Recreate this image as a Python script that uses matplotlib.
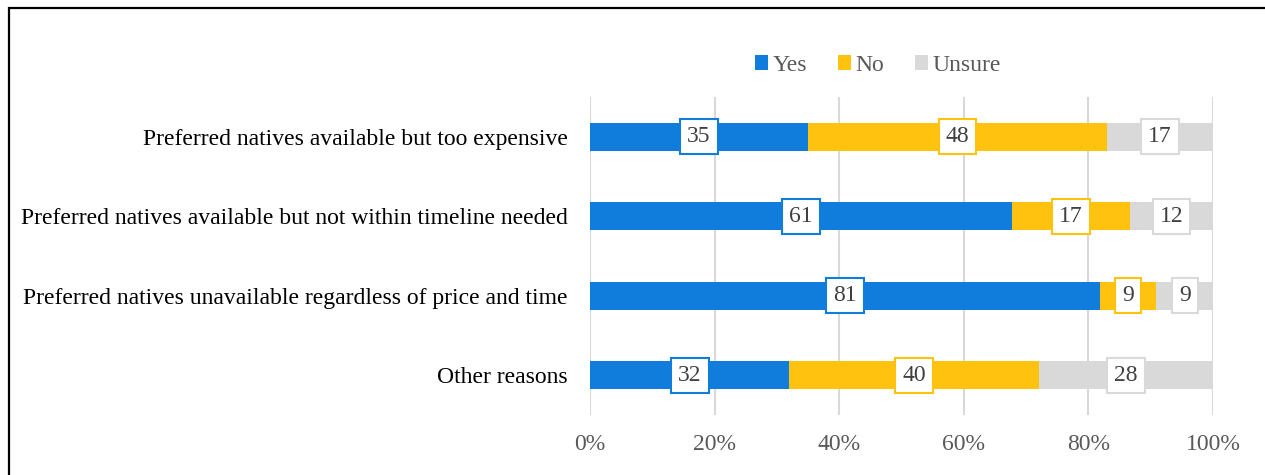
import matplotlib.pyplot as plt
from matplotlib.patches import Rectangle
import numpy as np

plt.rcParams['font.family'] = ['Liberation Serif', 'DejaVu Serif']

# Data (raw counts/percent labels per reason).
categories = [
    'Preferred natives available but too expensive',
    'Preferred natives available but not within timeline needed',
    'Preferred natives unavailable regardless of price and time',
    'Other reasons',
]
yes = [35, 61, 81, 32]
no = [48, 17, 9, 40]
unsure = [17, 12, 9, 28]
series_names = ['Yes', 'No', 'Unsure']
colors = ['#107CDC', '#FFC20E', '#D9D9D9']
ticks = [0, 20, 40, 60, 80, 100]

fig = plt.figure(figsize=(12.65, 4.75), dpi=100)
ax = fig.add_axes([590 / 1265, 60 / 475, 623 / 1265, 318 / 475])

values = np.array([yes, no, unsure], dtype=float)
totals = values.sum(axis=0)
shares = values / totals * 100
y = np.arange(len(categories))

left = np.zeros(len(categories))
for i, name in enumerate(series_names):
    ax.barh(y, shares[i], left=left, height=0.35, color=colors[i],
            label=name, zorder=2)
    for j in range(len(categories)):
        ax.text(left[j] + shares[i][j] / 2, y[j], '%d' % values[i][j],
                ha='center', va='center', fontsize=17, color='#404040',
                zorder=4,
                bbox=dict(boxstyle='square,pad=0.3', facecolor='white',
                          edgecolor=colors[i], linewidth=1.5))
    left += shares[i]

ax.set_xlim(0, 100)
ax.set_ylim(len(categories) - 0.5, -0.5)
ax.set_xticks(ticks)
ax.set_xticklabels(['%d%%' % t for t in ticks], fontsize=17, color='#595959')
ax.set_yticks(y)
ax.set_yticklabels(categories, fontsize=17, color='black')
ax.tick_params(length=0, axis='x', pad=14)
ax.tick_params(length=0, axis='y', pad=16)
ax.grid(axis='x', color='#D9D9D9', linewidth=1.5, zorder=0)
ax.set_axisbelow(True)
for s in ax.spines.values():
    s.set_visible(False)

leg = ax.legend(loc='lower center', bbox_to_anchor=(0.462, 1.0), ncol=3,
                frameon=False, fontsize=17, handlelength=0.55,
                handleheight=0.55, handletextpad=0.2, columnspacing=1.3)
for t in leg.get_texts():
    t.set_color('#595959')

# Outer frame (cropped on the right and bottom).
fig.patches.append(Rectangle((8.5 / 1265, -0.2), 1.2, 1.2 - 7.5 / 475,
                             transform=fig.transFigure, fill=False,
                             edgecolor='black', linewidth=1.6))

fig.savefig('out.png', dpi=100)
